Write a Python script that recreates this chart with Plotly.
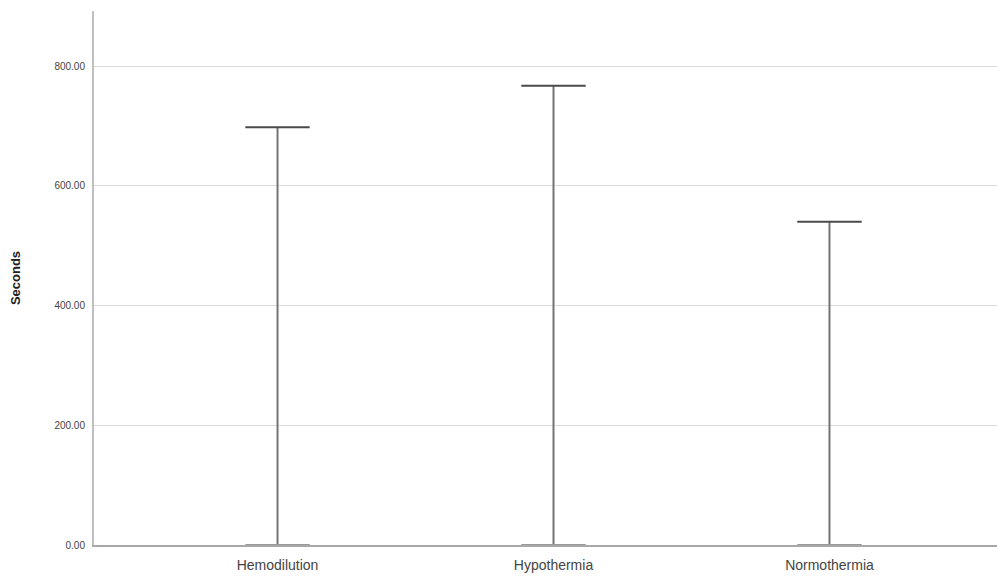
import plotly.graph_objects as go

categories = ["Hemodilution", "Hypothermia", "Normothermia"]
max_values = [698, 767, 540]
y_ticks = [0, 200, 400, 600, 800]
y_tick_labels = ["0.00", "200.00", "400.00", "600.00", "800.00"]

fig = go.Figure()
xs = list(range(len(categories)))
for x, v in zip(xs, max_values):
    fig.add_trace(go.Scatter(
        x=[x, x], y=[0, v], mode="lines",
        line=dict(color="#747474", width=2), showlegend=False, hoverinfo="skip"))
fig.add_trace(go.Scatter(
    x=xs, y=[0] * len(xs), mode="markers",
    marker=dict(symbol="line-ew", size=46, line=dict(color="#9a9a9a", width=2)),
    showlegend=False, hoverinfo="skip", cliponaxis=False))
fig.add_trace(go.Scatter(
    x=xs, y=max_values, mode="markers",
    marker=dict(symbol="line-ew", size=46, line=dict(color="#4a4a4a", width=2)),
    showlegend=False, hoverinfo="skip"))

fig.update_layout(
    width=997, height=576, autosize=False,
    margin=dict(l=94, r=0, t=11, b=31, autoexpand=False),
    paper_bgcolor="white", plot_bgcolor="white",
    font=dict(family="Liberation Sans, Arial, sans-serif", color="#333333"),
    xaxis=dict(
        tickmode="array", tickvals=xs, ticktext=categories,
        range=[-0.665, 2.607], showgrid=False, zeroline=False,
        showline=True, linecolor="#a8a8a8", linewidth=2,
        ticks="", ticklabelstandoff=6, tickfont=dict(size=14, color="#444444"),
        automargin=False,
    ),
    yaxis=dict(
        tickmode="array", tickvals=y_ticks, ticktext=y_tick_labels,
        range=[0, 892], showgrid=True, gridcolor="#d9d9d9", gridwidth=1,
        zeroline=False, showline=True, linecolor="#c0c0c0", linewidth=2,
        ticks="", ticklabelstandoff=5, tickfont=dict(size=10, color="#444444"),
        title=dict(text="<b>Seconds</b>", font=dict(size=13, color="#222222"), standoff=31),
        automargin=False,
    ),
)
fig.write_html(
    "out.html",
    config={"responsive": False, "displayModeBar": False},
    post_script="document.body.style.margin='0';document.body.style.overflow='hidden';",
)
